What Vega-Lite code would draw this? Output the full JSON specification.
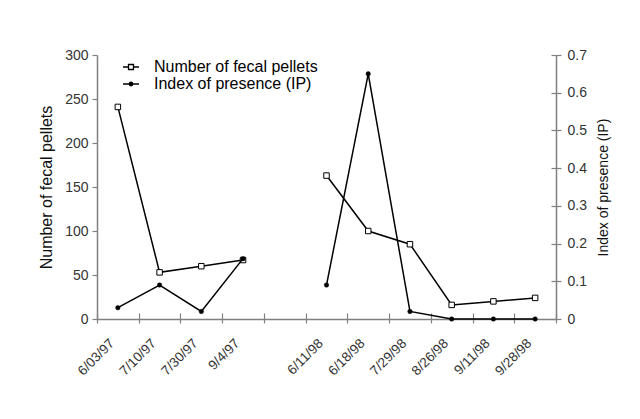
{
  "$schema": "https://vega.github.io/schema/vega-lite/v6.json",
  "width": 459,
  "height": 264,
  "autosize": "none",
  "padding": {"left": 97, "top": 55, "right": 84, "bottom": 100},
  "background": "white",
  "config": {
    "font": "Liberation Sans",
    "view": {"stroke": null},
    "axis": {"domainColor": "#808080", "tickColor": "#808080", "domainWidth": 1.5, "tickWidth": 1.2, "labelColor": "#333333", "titleColor": "#111111", "titleFontWeight": "normal", "grid": false}
  },
  "data": {"values": [
    {"date": "6/03/97", "year": "1997", "pellets": 241, "ip": 0.03},
    {"date": "7/10/97", "year": "1997", "pellets": 53, "ip": 0.09},
    {"date": "7/30/97", "year": "1997", "pellets": 60, "ip": 0.02},
    {"date": "9/4/97", "year": "1997", "pellets": 67, "ip": 0.16},
    {"date": "6/11/98", "year": "1998", "pellets": 163, "ip": 0.09},
    {"date": "6/18/98", "year": "1998", "pellets": 100, "ip": 0.65},
    {"date": "7/29/98", "year": "1998", "pellets": 85, "ip": 0.02},
    {"date": "8/26/98", "year": "1998", "pellets": 16, "ip": 0},
    {"date": "9/11/98", "year": "1998", "pellets": 20, "ip": 0},
    {"date": "9/28/98", "year": "1998", "pellets": 24, "ip": 0}
  ]},
  "layer": [
    {
      "encoding": {
        "x": {
          "field": "date", "type": "ordinal",
          "scale": {"type": "band", "domain": ["6/03/97", "7/10/97", "7/30/97", "9/4/97", " ", "6/11/98", "6/18/98", "7/29/98", "8/26/98", "9/11/98", "9/28/98"], "paddingInner": 0, "paddingOuter": 0},
          "axis": {"orient": "bottom", "title": null, "tickBand": "extent", "labelAngle": -45, "labelAlign": "right", "labelBaseline": "top", "labelFontSize": 13.5, "tickSize": 4, "labelPadding": 13, "labelOffset": -11}
        },
        "y": {"field": "pellets", "type": "quantitative", "scale": {"domain": [0, 300], "nice": false},
          "axis": {"title": "Number of fecal pellets", "values": [0, 50, 100, 150, 200, 250, 300], "labelFontSize": 14, "titleFontSize": 16, "tickSize": 5, "labelPadding": 4, "titlePadding": 10}}
      },
      "layer": [
        {"mark": {"type": "line", "color": "black", "strokeWidth": 1.5}, "encoding": {"detail": {"field": "year"}}},
        {"mark": {"type": "point", "shape": "square", "filled": true, "stroke": "black", "strokeWidth": 1, "size": 30, "opacity": 1},
          "encoding": {"fill": {"datum": "Number of fecal pellets", "type": "nominal",
            "scale": {"domain": ["Number of fecal pellets", "Index of presence (IP)"], "range": ["white", "black"]},
            "legend": {"orient": "none", "legendX": 25, "legendY": 3, "title": null, "labelFontSize": 16, "labelColor": "black", "labelLimit": 0, "labelOffset": 14, "rowPadding": 0, "padding": 0, "symbolSize": 256, "symbolStrokeColor": "black", "symbolStrokeWidth": 1.3, "symbolOpacity": 1,
              "encode": {"symbols": {"update": {"shape": {"signal": "datum.value === 'Number of fecal pellets' ? 'M-1,0H-0.31M0.31,0H1M-0.31,-0.31H0.31V0.31H-0.31Z' : 'M-1,0H1M-0.22,0A0.22,0.22,0,1,0,0.22,0A0.22,0.22,0,1,0,-0.22,0Z'"}}}}}}}
        }
      ]
    },
    {
      "encoding": {
        "x": {
          "field": "date", "type": "ordinal",
          "axis": {"orient": "bottom", "title": null, "tickBand": "extent", "labels": false, "domain": false, "tickSize": -6}
        },
        "y": {"field": "ip", "type": "quantitative", "scale": {"domain": [0, 0.7], "nice": false}}
      },
      "layer": [
        {"mark": {"type": "line", "color": "black", "strokeWidth": 1.5}, "encoding": {"detail": {"field": "year"},
          "y": {"field": "ip", "type": "quantitative", "axis": {"orient": "right", "title": "Index of presence (IP)", "values": [0, 0.1, 0.2, 0.3, 0.4, 0.5, 0.6, 0.7], "format": "~g", "labelFontSize": 14, "titleFontSize": 14, "titleAngle": 270, "titleBaseline": "top", "tickSize": 5, "labelPadding": 6, "titlePadding": 10}}}},
        {"mark": {"type": "point", "shape": "circle", "filled": true, "stroke": "black", "strokeWidth": 0.5, "size": 20, "opacity": 1},
          "encoding": {"fill": {"datum": "Index of presence (IP)", "type": "nominal"},
            "y": {"field": "ip", "type": "quantitative", "axis": {"orient": "right", "title": null, "labels": false, "domain": false, "tickSize": -5, "values": [0, 0.1, 0.2, 0.3, 0.4, 0.5, 0.6, 0.7]}}}}
      ],
      "resolve": {"axis": {"y": "independent"}}
    }
  ],
  "resolve": {"scale": {"y": "independent"}, "axis": {"x": "independent"}}
}
